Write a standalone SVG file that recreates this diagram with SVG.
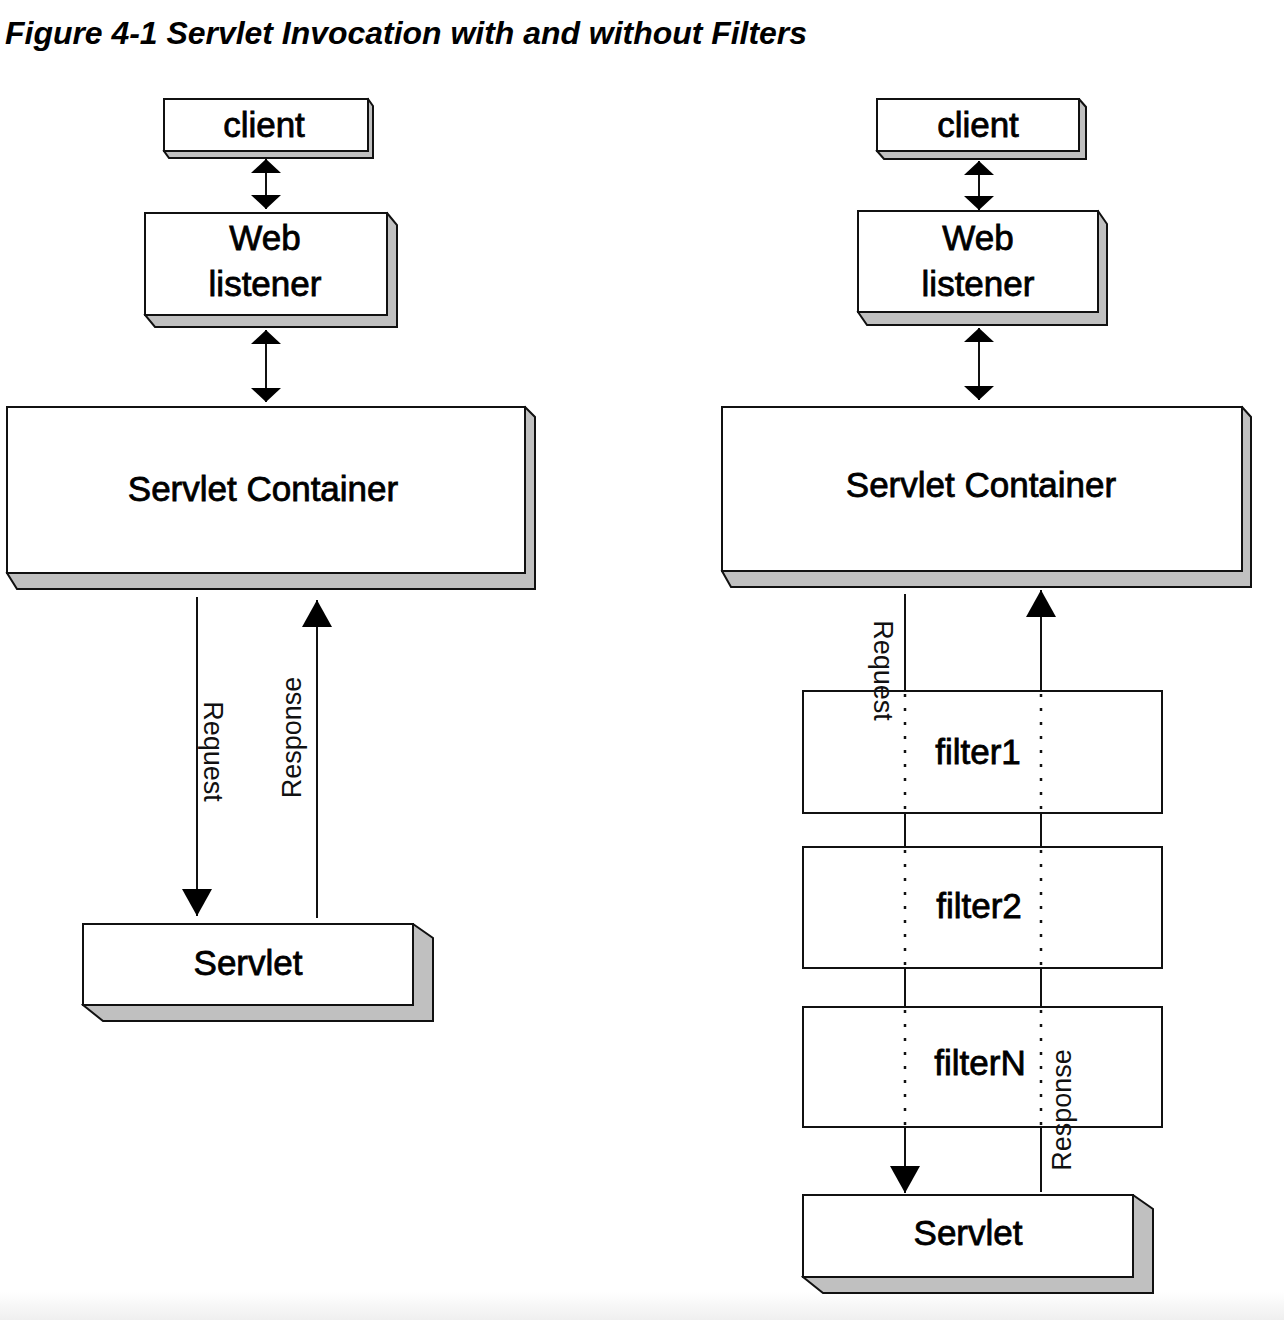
<svg xmlns="http://www.w3.org/2000/svg" width="1284" height="1320" viewBox="0 0 1284 1320">
<defs>
<style>
.face{fill:#ffffff;stroke:#111;stroke-width:2}
.ext{fill:#c0c0c0;stroke:#111;stroke-width:2;stroke-linejoin:miter}
.lbl{font-family:"Liberation Sans",Arial,sans-serif;font-size:35px;fill:#000;stroke:#000;stroke-width:0.8px;text-anchor:middle}
.flow{font-family:"Liberation Sans",Arial,sans-serif;font-size:27px;fill:#111;text-anchor:middle}
.ln{stroke:#111;stroke-width:2;fill:none}
.dot{stroke:#111;stroke-width:2.5;fill:none;stroke-dasharray:3 11}
</style>
<marker id="sm" viewBox="0 0 14 30" refX="14" refY="15" markerWidth="14" markerHeight="30" markerUnits="userSpaceOnUse" orient="auto-start-reverse"><path d="M0,0 L14,15 L0,30 z" fill="#000"/></marker>
<marker id="lg" viewBox="0 0 27 30" refX="27" refY="15" markerWidth="27" markerHeight="30" markerUnits="userSpaceOnUse" orient="auto-start-reverse"><path d="M0,0 L27,15 L0,30 z" fill="#000"/></marker>
<linearGradient id="shade" x1="0" y1="0" x2="0" y2="1"><stop offset="0" stop-color="#ffffff"/><stop offset="1" stop-color="#efefef"/></linearGradient>
</defs>
<rect x="0" y="0" width="1284" height="1320" fill="#ffffff"/>
<rect x="0" y="1292" width="1284" height="28" fill="url(#shade)"/>

<text x="5" y="44" font-family="'Liberation Sans',Arial,sans-serif" font-size="31" font-weight="bold" font-style="italic" textLength="802" lengthAdjust="spacingAndGlyphs">Figure 4-1 Servlet Invocation with and without Filters</text>

<g id="connectors">
<line class="ln" x1="266" y1="159" x2="266" y2="209" marker-start="url(#sm)" marker-end="url(#sm)"/>
<line class="ln" x1="266" y1="330" x2="266" y2="402" marker-start="url(#sm)" marker-end="url(#sm)"/>
<line class="ln" x1="979" y1="161" x2="979" y2="210" marker-start="url(#sm)" marker-end="url(#sm)"/>
<line class="ln" x1="979" y1="328" x2="979" y2="400" marker-start="url(#sm)" marker-end="url(#sm)"/>
<line class="ln" x1="197" y1="597" x2="197" y2="916" marker-end="url(#lg)"/>
<line class="ln" x1="317" y1="918" x2="317" y2="600" marker-end="url(#lg)"/>
<text class="flow" transform="translate(204,751.5) rotate(90)">Request</text>
<text class="flow" transform="translate(301,737.5) rotate(-90)">Response</text>
<line class="ln" x1="905" y1="594" x2="905" y2="691"/>
<line class="dot" x1="905" y1="694" x2="905" y2="812"/>
<line class="ln" x1="905" y1="813" x2="905" y2="847"/>
<line class="dot" x1="905" y1="850" x2="905" y2="967"/>
<line class="ln" x1="905" y1="968" x2="905" y2="1007"/>
<line class="dot" x1="905" y1="1010" x2="905" y2="1126"/>
<line class="ln" x1="905" y1="1127" x2="905" y2="1193" marker-end="url(#lg)"/>
<line class="ln" x1="1041" y1="1192" x2="1041" y2="1127"/>
<line class="dot" x1="1041" y1="1010" x2="1041" y2="1126"/>
<line class="ln" x1="1041" y1="1007" x2="1041" y2="968"/>
<line class="dot" x1="1041" y1="850" x2="1041" y2="967"/>
<line class="ln" x1="1041" y1="847" x2="1041" y2="813"/>
<line class="dot" x1="1041" y1="694" x2="1041" y2="812"/>
<line class="ln" x1="1041" y1="691" x2="1041" y2="590" marker-end="url(#lg)"/>
</g>

<g id="client-left">
<polygon class="ext" points="368,99 373,106 373,158 169,158 164,151"/>
<rect class="face" x="164" y="99" width="204" height="52"/>
<text class="lbl" x="264" y="137">client</text>
</g>
<g id="web-left">
<polygon class="ext" points="387,213 397,225 397,327 155,327 145,315"/>
<rect class="face" x="145" y="213" width="242" height="102"/>
<text class="lbl" x="265" y="250">Web</text>
<text class="lbl" x="265" y="296">listener</text>
</g>
<g id="container-left">
<polygon class="ext" points="525,407 535,417 535,589 17,589 7,573"/>
<rect class="face" x="7" y="407" width="518" height="166"/>
<text class="lbl" x="263" y="501">Servlet Container</text>
</g>
<g id="servlet-left">
<polygon class="ext" points="413,924 433,938 433,1021 103,1021 83,1005"/>
<rect class="face" x="83" y="924" width="330" height="81"/>
<text class="lbl" x="248" y="975">Servlet</text>
</g>

<g id="client-right">
<polygon class="ext" points="1079,99 1086,107 1086,159 884,159 877,151"/>
<rect class="face" x="877" y="99" width="202" height="52"/>
<text class="lbl" x="978" y="137">client</text>
</g>
<g id="web-right">
<polygon class="ext" points="1098,211 1107,224 1107,325 867,325 858,312"/>
<rect class="face" x="858" y="211" width="240" height="101"/>
<text class="lbl" x="978" y="250">Web</text>
<text class="lbl" x="978" y="296">listener</text>
</g>
<g id="container-right">
<polygon class="ext" points="1242,407 1251,417 1251,587 731,587 722,571"/>
<rect class="face" x="722" y="407" width="520" height="164"/>
<text class="lbl" x="981" y="497">Servlet Container</text>
</g>
<g id="filter1">
<rect class="face" x="803" y="691" width="359" height="122" fill-opacity="0"/>
<text class="lbl" x="978" y="764">filter1</text>
</g>
<g id="filter2">
<rect class="face" x="803" y="847" width="359" height="121" fill-opacity="0"/>
<text class="lbl" x="979" y="918">filter2</text>
</g>
<g id="filterN">
<rect class="face" x="803" y="1007" width="359" height="120" fill-opacity="0"/>
<text class="lbl" x="980" y="1075">filterN</text>
</g>
<g id="servlet-right">
<polygon class="ext" points="1133,1195 1153,1209 1153,1293 823,1293 803,1277"/>
<rect class="face" x="803" y="1195" width="330" height="82"/>
<text class="lbl" x="968" y="1245">Servlet</text>
</g>
<text class="flow" transform="translate(874,670.5) rotate(90)">Request</text>
<text class="flow" transform="translate(1071,1110) rotate(-90)">Response</text>
</svg>
